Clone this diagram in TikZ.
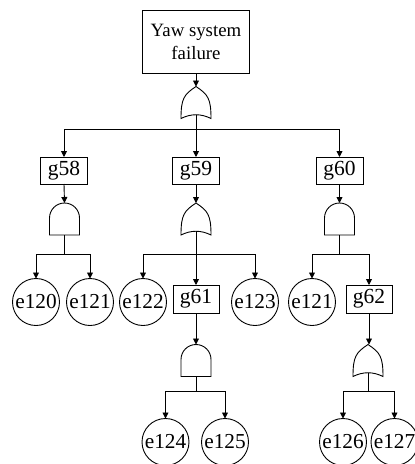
\documentclass[tikz,border=0pt]{standalone}
\usepackage{fontspec}
\setmainfont{Liberation Serif}
\usetikzlibrary{arrows.meta}
\begin{document}
\begin{tikzpicture}[x=1pt,y=1pt, line width=0.9pt,
  every node/.style={inner sep=0pt, outer sep=0pt},
  topbox/.style={draw, minimum width=107pt, minimum height=63pt, align=center, font=\fontsize{18.8}{23}\selectfont},
  box/.style={draw, minimum width=47pt, minimum height=27pt, font=\fontsize{21.5}{22}\selectfont},
  evt/.style={draw, circle, minimum size=47pt, font=\fontsize{21.3}{22}\selectfont},
  gatebox/.style={minimum width=30pt, minimum height=32pt},
  arr/.style={-{Triangle[length=6pt,width=6pt]}}]
\useasboundingbox (0,0) rectangle (415,-464);

% gate outlines
\newcommand\andshape[1]{\draw (#1.south west) -- ++(0,17) arc[start angle=180,end angle=0,radius=15pt] -- (#1.south east) -- cycle;}
\newcommand\orshape[1]{\draw (#1.south west) .. controls +(0,20) and +(-12,-8) .. (#1.north) .. controls +(12,-8) and +(0,20) .. (#1.south east) .. controls +(-10,5) and +(10,5) .. cycle;}

% top event and first level
\node[topbox] (top) at (196,-41.5) {Yaw system\\failure};
\node[gatebox] (or0) at (196,-102.5) {};
\node[box] (g58) at (64,-170.5) {g58};
\node[box] (g59) at (196,-170.5) {g59};
\node[box] (g60) at (339.5,-170.5) {g60};

% second level gates
\node[gatebox] (and1) at (64.5,-219) {};
\node[gatebox] (or2) at (196,-219) {};
\node[gatebox] (and3) at (339.5,-219) {};

% second level events
\node[evt] (e120) at (36,-302) {e120};
\node[evt] (e121a) at (90,-302) {e121};
\node[evt] (e122) at (143,-302) {e122};
\node[box, minimum width=46pt, minimum height=28pt] (g61) at (196,-299) {g61};
\node[evt] (e123) at (255,-302) {e123};
\node[evt] (e121b) at (312,-302) {e121};
\node[box, minimum width=46pt, minimum height=28pt] (g62) at (369,-299) {g62};

% third level
\node[gatebox] (and4) at (196,-360.5) {};
\node[gatebox] (or5) at (368,-360.5) {};
\node[evt] (e124) at (165.5,-442) {e124};
\node[evt] (e125) at (225,-442) {e125};
\node[evt] (e126) at (343,-442) {e126};
\node[evt] (e127) at (394.5,-442) {e127};

\orshape{or0}
\orshape{or2}
\orshape{or5}
\andshape{and1}
\andshape{and3}
\andshape{and4}

% gate outputs and bus points
\coordinate (or0o) at ([yshift=4pt]or0.south);
\coordinate (or2o) at ([yshift=4pt]or2.south);
\coordinate (or5o) at ([yshift=4pt]or5.south);
\coordinate (bus0) at (196,-129);
\coordinate (bus1) at (64.5,-254);
\coordinate (bus2) at (196,-254);
\coordinate (bus3) at (339.5,-254);
\coordinate (bus4) at (196,-391);
\coordinate (bus5) at (368,-391);

% connectors
\draw[arr] (top.south) -- (or0.north);
\draw[arr] (or0o) -- (bus0) -| (g58.north);
\draw[arr] (or0o) -- (g59.north);
\draw[arr] (or0o) -- (bus0) -| (g60.north);

\draw[arr] (g58.south) -- (and1.north);
\draw[arr] (g59.south) -- (or2.north);
\draw[arr] (g60.south) -- (and3.north);

\draw[arr] (and1.south) -- (bus1) -| (e120.north);
\draw[arr] (and1.south) -- (bus1) -| (e121a.north);
\draw[arr] (or2o) -- (bus2) -| (e122.north);
\draw[arr] (or2o) -- (g61.north);
\draw[arr] (or2o) -- (bus2) -| (e123.north);
\draw[arr] (and3.south) -- (bus3) -| (e121b.north);
\draw[arr] (and3.south) -- (bus3) -| (g62.north);

\draw[arr] (g61.south) -- (and4.north);
\draw[arr] (g62.south) -- (g62.south |- or5.north);
\draw[arr] (and4.south) -- (bus4) -| (e124.north);
\draw[arr] (and4.south) -- (bus4) -| (e125.north);
\draw[arr] (or5o) -- (bus5) -| (e126.north);
\draw[arr] (or5o) -- (bus5) -| (e127.north);
\end{tikzpicture}
\end{document}
